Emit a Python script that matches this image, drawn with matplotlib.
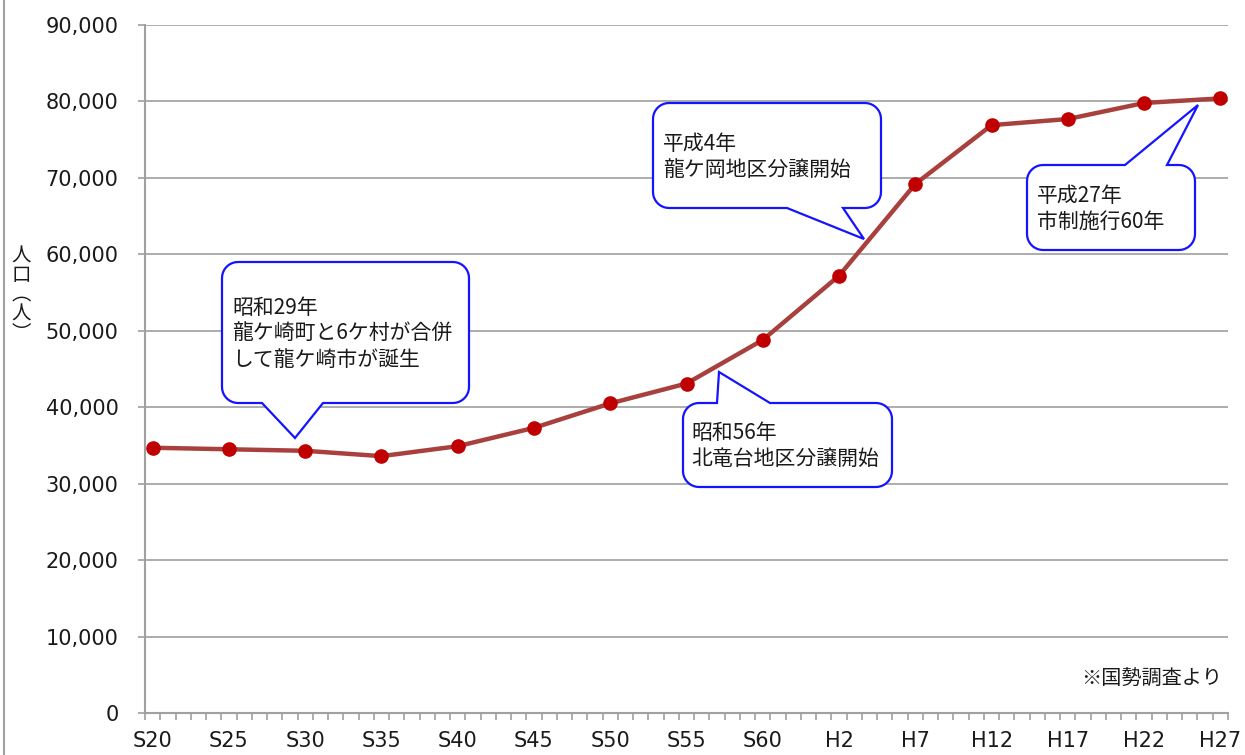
import numpy as np
import matplotlib
matplotlib.use('Agg')
import matplotlib.pyplot as plt
from matplotlib.patches import Polygon
from matplotlib.lines import Line2D
from matplotlib.transforms import IdentityTransform

plt.rcParams['font.family'] = ['Noto Sans CJK JP', 'DejaVu Sans']

# 国勢調査 population (5-year steps, S20 = 1945 ... H27 = 2015)
year_labels = ['S20', 'S25', 'S30', 'S35', 'S40', 'S45', 'S50', 'S55',
               'S60', 'H2', 'H7', 'H12', 'H17', 'H22', 'H27']
years = [1945, 1950, 1955, 1960, 1965, 1970, 1975, 1980,
         1985, 1990, 1995, 2000, 2005, 2010, 2015]
population = [34700, 34500, 34300, 33600, 34900, 37300, 40500, 43100,
              48800, 57200, 69200, 76900, 77700, 79800, 80400]
y_ticks = [0, 10000, 20000, 30000, 40000, 50000, 60000, 70000, 80000, 90000]

notes = ['昭和29年\n龍ケ崎町と6ケ村が合併\nして龍ケ崎市が誕生',
         '平成4年\n龍ケ岡地区分譲開始',
         '昭和56年\n北竜台地区分譲開始',
         '平成27年\n市制施行60年']

W, H = 1245, 755
fig = plt.figure(figsize=(W / 100, H / 100), dpi=100)
ax = fig.add_axes([145 / W, 42 / H, 1083 / W, 688 / H])

x = np.array(years) - years[0]
ax.plot(x, population, color='#a8413d', lw=3.2, zorder=3,
        marker='o', ms=9.5, mfc='#c00000', mec='#c00000')

ax.set_xlim(-0.5, x[-1] + 0.5)
ax.set_ylim(0, 90000)
ax.set_xticks(x)
ax.set_xticklabels(year_labels, fontsize=15, family='DejaVu Sans')
ax.set_xticks(np.arange(-0.5, x[-1] + 1, 1), minor=True)
ax.tick_params(axis='x', which='major', length=0, pad=13, colors='#1a1a1a')
ax.tick_params(axis='x', which='minor', length=5, width=1.2, color='#a0a0a0')
ax.set_yticks(y_ticks)
ax.set_yticklabels([f'{v:,}' for v in y_ticks], fontsize=15, family='DejaVu Sans')
ax.tick_params(axis='y', length=5, width=1.2, color='#a0a0a0', pad=14,
               labelcolor='#1a1a1a')
ax.grid(axis='y', color='#a6a6a6', lw=1.3)
ax.set_axisbelow(True)
for s in ['top', 'right']:
    ax.spines[s].set_visible(False)
for s in ['left', 'bottom']:
    ax.spines[s].set_color('#a0a0a0')
    ax.spines[s].set_linewidth(1.5)

# y label, vertical japanese
fig.text(21 / W, 1 - 295 / H, '人\n口\n︵\n人\n︶', fontsize=14,
         ha='center', va='center', linespacing=0.9, color='#1a1a1a')

fig.text(1222 / W, 1 - 679 / H, '※国勢調査より', fontsize=14.5,
         ha='right', va='center', color='#1a1a1a')

# chart border on the left
fig.add_artist(Line2D([4 / W, 4 / W], [0, 1], color='#a0a0a0', lw=1.5))


def callout(x0, y0, x1, y1, side, a, b, tip, r=16):
    pts = []
    def arc(cx, cy, t0, t1):
        for t in np.radians(np.linspace(t0, t1, 10)):
            pts.append((cx + r * np.cos(t), cy + r * np.sin(t)))
    arc(x0 + r, y0 + r, 180, 270)
    if side == 'top':
        pts += [(a, y0), tip, (b, y0)]
    arc(x1 - r, y0 + r, 270, 360)
    arc(x1 - r, y1 - r, 0, 90)
    if side == 'bottom':
        pts += [(b, y1), tip, (a, y1)]
    arc(x0 + r, y1 - r, 90, 180)
    pts = [(px, H - py) for px, py in pts]
    fig.add_artist(Polygon(pts, closed=True, transform=IdentityTransform(),
                           facecolor='white', edgecolor='#1414ff', lw=1.6,
                           zorder=5))


callout(222, 262, 469, 403, 'bottom', 262, 323, (295, 438))
callout(653, 103, 881, 208, 'bottom', 787, 843, (864, 239))
callout(683, 403, 892, 487, 'top', 717, 770, (719, 372))
callout(1027, 165, 1195, 250, 'top', 1125, 1167, (1198, 105))

for (tx, ty), note in zip([(232, 334), (663, 157), (691, 446), (1037, 209)], notes):
    fig.text(tx / W, 1 - ty / H, note, fontsize=15, ha='left', va='center',
             linespacing=1.25, color='#1a1a1a', zorder=6)

fig.savefig('out.png', dpi=100)
